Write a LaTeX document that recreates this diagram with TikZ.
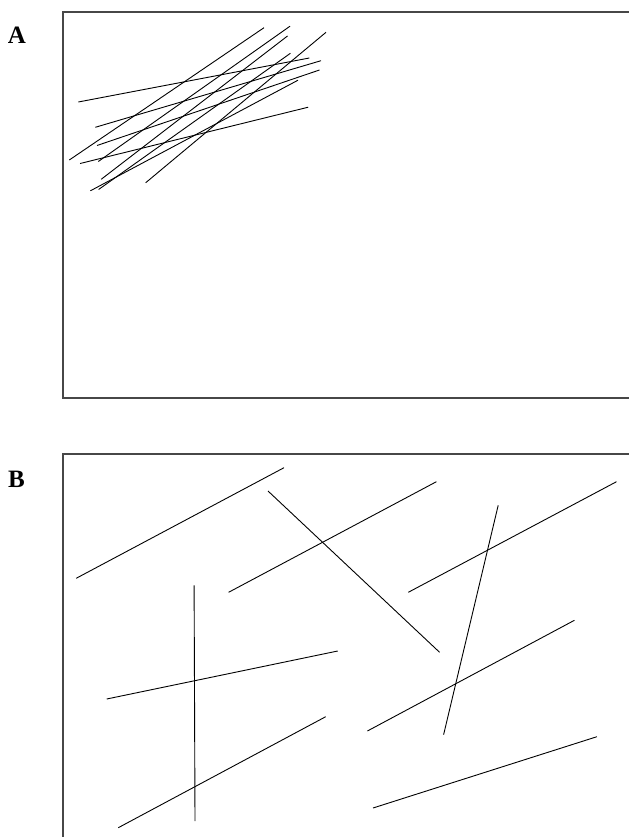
\documentclass[tikz,border=0pt]{standalone}
\usepackage{fontspec}
\setmainfont{Liberation Serif}
\begin{document}
\begin{tikzpicture}[x=1bp,y=-1bp,
  frame/.style={draw=black!72,line width=1.3bp},
  seg/.style={draw=black,line width=0.9bp},
  panel/.style={font=\bfseries\fontsize{25bp}{28bp}\selectfont,inner sep=0pt}]
\useasboundingbox (0,0) rectangle (629,837);
% panel labels
\node[panel] (labA) at (17,35.5) {A};
\node[panel] (labB) at (16.5,479) {B};
% frames (open on the right / bottom where cut)
\draw[frame] (640,12) -- (63,12) -- (63,398) -- (640,398);
\draw[frame] (640,454) -- (63,454) -- (63,850);
% panel A segments
\draw[seg] (78.3,102) -- (309.3,58);
\draw[seg] (95.3,127.3) -- (321,60.7);
\draw[seg] (97,145.5) -- (319.5,70);
\draw[seg] (80.1,163.5) -- (308.2,107.2);
\draw[seg] (69.3,160) -- (264,27.7);
\draw[seg] (98.3,161.5) -- (290,26.2);
\draw[seg] (101.2,179.3) -- (287.5,36);
\draw[seg] (90.4,190.8) -- (298,80.2);
\draw[seg] (98.6,189.5) -- (290.4,53.3);
\draw[seg] (145.6,182.8) -- (326,32.3);
% panel B segments
\draw[seg] (76.2,578.3) -- (284,467.7);
\draw[seg] (228.6,592.3) -- (436.4,481.7);
\draw[seg] (268,491) -- (439.6,652.3);
\draw[seg] (408.3,592.3) -- (616.5,481.7);
\draw[seg] (498.2,505.3) -- (443.6,734.7);
\draw[seg] (194.1,585.3) -- (195,821);
\draw[seg] (106.7,699) -- (337.7,651);
\draw[seg] (118.3,827.7) -- (325.7,716.7);
\draw[seg] (367.4,731) -- (574.4,620.3);
\draw[seg] (373,808) -- (596.9,736.7);
\end{tikzpicture}
\end{document}
